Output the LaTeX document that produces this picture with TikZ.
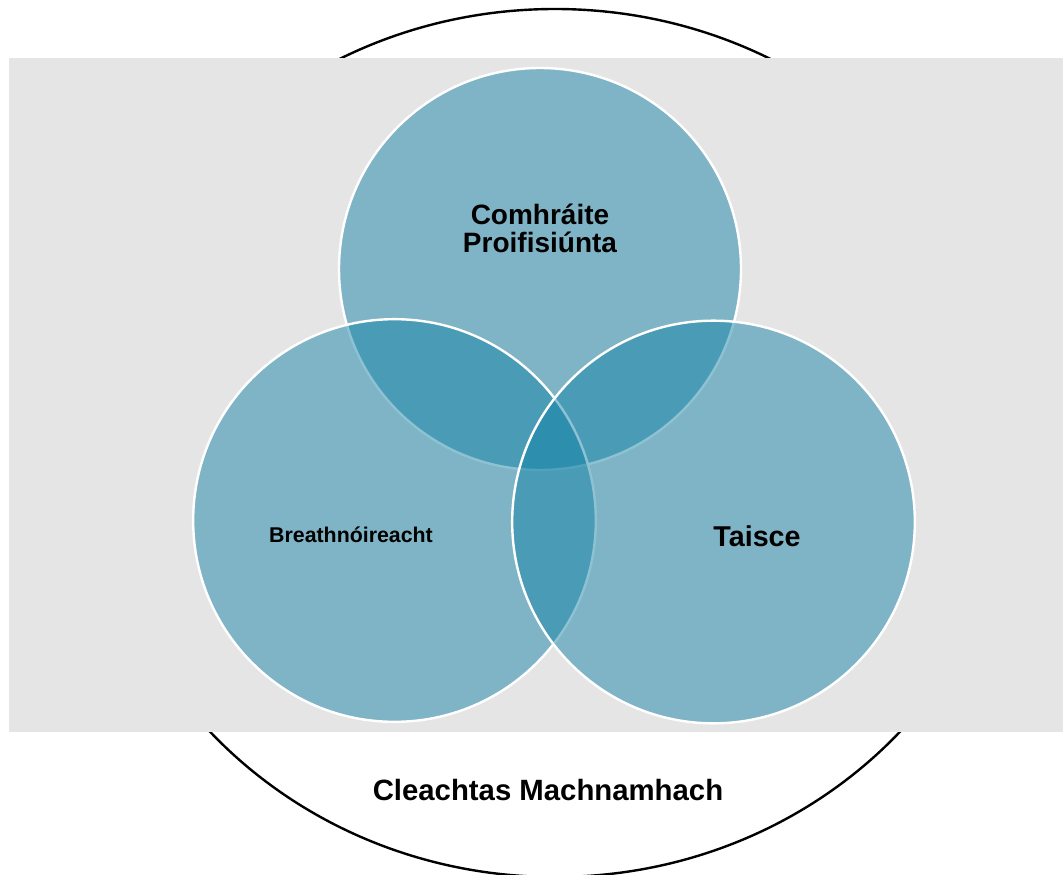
\documentclass[tikz,border=0pt]{standalone}
\usepackage{fontspec}
\setmainfont{Liberation Sans}
\definecolor{venn}{RGB}{17,128,165}
\definecolor{bggray}{RGB}{229,229,229}
\begin{document}
\begin{tikzpicture}[x=0.75pt,y=-0.75pt,
  vcircle/.style={fill=venn,fill opacity=0.48,draw=white,draw opacity=1,line width=1.8pt},
  lbl/.style={font=\bfseries,text=black,align=center,inner sep=0pt}]
\useasboundingbox (0,0) rectangle (1063,874);
\fill[white] (0,0) rectangle (1063,874);
% outer ellipse
\draw[black,line width=1.8pt] (555,443) ellipse [x radius=346.5pt,y radius=325.5pt];
% background band
\fill[bggray] (9,58) rectangle (1063,732);
% three circles
\path[vcircle] (540,269) circle [radius=150.75pt];
\path[vcircle] (394.5,520.5) circle [radius=151pt];
\path[vcircle] (713.5,522) circle [radius=151pt];
% labels
\node[lbl,font=\fontsize{21}{21}\selectfont\bfseries] (tp) at (540,228) {Comhráite\\Proifisiúnta};
\node[lbl,font=\fontsize{16}{19}\selectfont\bfseries] (lf) at (351,535) {Breathnóireacht};
\node[lbl,font=\fontsize{21.5}{24}\selectfont\bfseries] (rt) at (757,536) {Taisce};
\node[lbl,font=\fontsize{22}{24}\selectfont\bfseries] (bt) at (548,790) {Cleachtas Machnamhach};
\end{tikzpicture}
\end{document}
